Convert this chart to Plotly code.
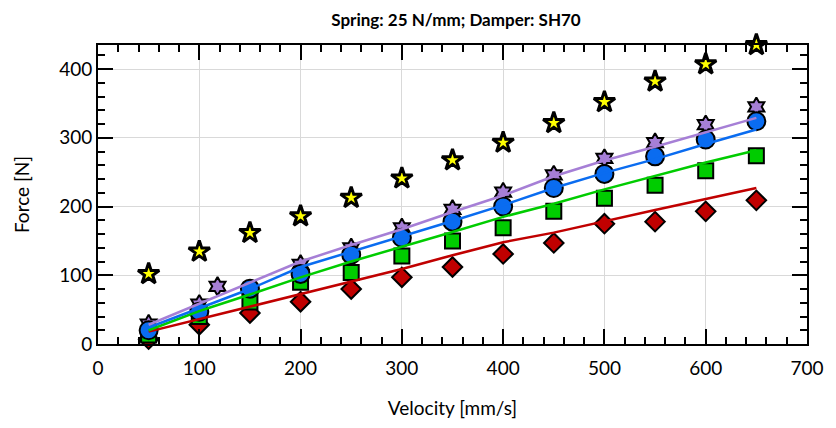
import plotly.graph_objects as go

velocity = [50, 100, 150, 200, 250, 300, 350, 400, 450, 500, 550, 600, 650]

# measured markers
yellow_star = [102, 134.5, 161.7, 186, 212.7, 241, 267.5, 293, 321.5, 352, 382, 407, 435]
purple_x = [50, 100, 118, 200, 250, 300, 350, 400, 450, 500, 550, 600, 650]
purple_star = [29, 58, 84, 116, 140, 169, 196, 221, 246, 270, 293, 319, 345]
blue_circle = [20, 47, 80.5, 102, 130, 154.5, 178, 200, 227, 247.5, 273, 297.5, 324]
green_square = [13, 40, 61, 90, 104, 128, 150, 169, 193, 212, 231, 252, 274]
red_diamond = [7, 28, 45, 61.5, 80, 97, 112, 131, 147, 175, 178, 193, 209]

# model lines
purple_line = [28, 59, 89, 120, 144, 167, 192, 216, 244, 267, 287, 308, 329]
blue_line = [24, 52, 80, 112, 134, 156, 179, 202, 227, 249, 269, 291, 312]
green_line = [20, 48, 72, 97, 120, 141, 163, 185, 204, 225, 245, 264, 282]
red_line = [18, 36, 54, 73, 91, 109, 129, 148, 162, 179, 195, 211, 227]

x_ticks = [0, 100, 200, 300, 400, 500, 600, 700]
y_ticks = [0, 100, 200, 300, 400]

PURPLE = "#a67fd6"
BLUE = "#0a6cf0"
GREEN = "#00cc00"
RED = "#c00000"
FONT = "Lato"

fig = go.Figure()

def markers(x, y, symbol, color, size, lw=2):
    fig.add_trace(go.Scatter(
        x=x, y=y, mode="markers", cliponaxis=False, showlegend=False,
        marker=dict(symbol=symbol, color=color, size=size,
                    line=dict(color="black", width=lw))))

markers(velocity, red_diamond, "diamond", RED, 15)
markers(velocity, green_square, "square", GREEN, 15)
markers(purple_x, purple_star, "hexagram", PURPLE, 14)
markers(velocity, blue_circle, "circle", BLUE, 18)
markers(velocity, yellow_star, "star", "#ffff00", 16, 3)

for yv, c in [(red_line, RED), (green_line, GREEN), (blue_line, BLUE), (purple_line, PURPLE)]:
    fig.add_trace(go.Scatter(x=velocity, y=yv, mode="lines", showlegend=False,
                             line=dict(color=c, width=2.5)))

axis_common = dict(
    showline=True, linecolor="black", linewidth=2, mirror="allticks",
    ticks="inside", ticklen=15, tickwidth=2, tickcolor="black",
    showgrid=True, gridcolor="#d9d9d9", gridwidth=1, zeroline=False,
    tickfont=dict(family=FONT, size=19, color="black"),
)

fig.update_xaxes(range=[0, 700], tickvals=x_ticks, ticktext=[str(v) for v in x_ticks],
                 ticklabelstandoff=6,
                 minor=dict(dtick=20, ticks="inside", ticklen=7, tickwidth=2,
                            tickcolor="black", showgrid=False),
                 title=dict(text="Velocity [mm/s]", font=dict(family=FONT, size=19, color="black"),
                            standoff=24),
                 **axis_common)
fig.update_yaxes(range=[0, 435], tickvals=y_ticks, ticktext=[str(v) for v in y_ticks],
                 minor=dict(dtick=20, ticks="inside", ticklen=7, tickwidth=2,
                            tickcolor="black", showgrid=False),
                 title=dict(text="Force [N]", font=dict(family=FONT, size=19, color="black"),
                            standoff=24),
                 **axis_common)

fig.update_layout(
    width=836, height=428,
    margin=dict(l=98, r=22, t=45, b=81),
    paper_bgcolor="white", plot_bgcolor="white",
    title=dict(text="<b>Spring: 25 N/mm; Damper: SH70</b>", x=456/836, xanchor="center",
               y=1 - 20/428, yanchor="middle",
               font=dict(family=FONT, size=17, color="black")),
)

fig.write_html("out.html")
